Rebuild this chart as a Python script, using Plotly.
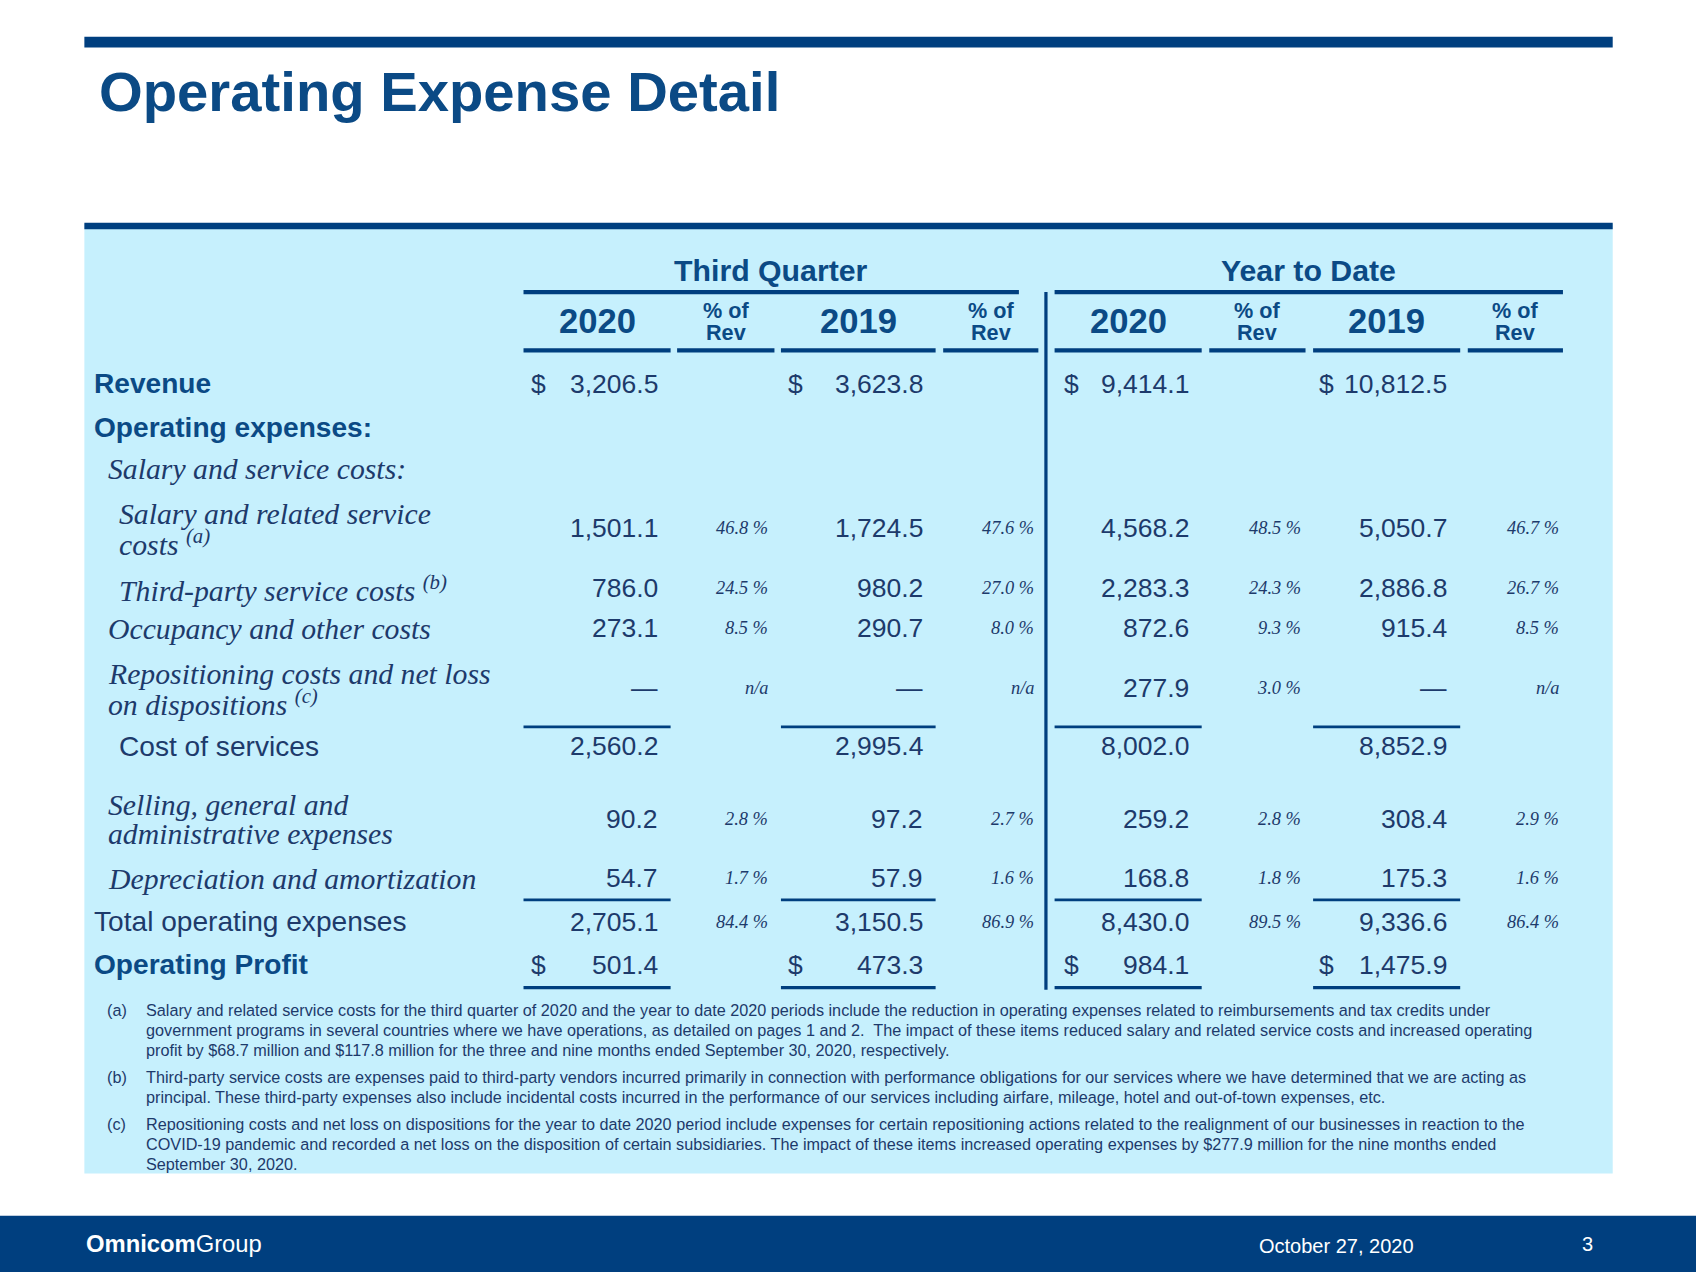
import plotly.graph_objects as go

# reference layout is drawn in 1568x1176 units, page is 1696x1272
W, H = 1568, 1176
K = 1696 / 1568

NAVY = '#003f7f'
BLUE = '#0b4a85'
TXT = '#1d3a6b'
PANEL = '#c6f0fd'

groups = ['Third Quarter', 'Year to Date']
col_years = ['2020', '% of<br>Rev', '2019', '% of<br>Rev', '2020', '% of<br>Rev', '2019', '% of<br>Rev']

labels = ['Revenue', 'Operating expenses:', 'Salary and service costs:',
          'Salary and related service<br>costs <sup>(a)</sup>',
          'Third-party service costs <sup>(b)</sup>',
          'Occupancy and other costs',
          'Repositioning costs and net loss<br>on dispositions <sup>(c)</sup>',
          'Cost of services',
          'Selling, general and<br>administrative expenses',
          'Depreciation and amortization',
          'Total operating expenses', 'Operating Profit']
label_style = ['bold', 'bold', 'ital', 'ital', 'ital', 'ital', 'ital', 'plain', 'ital', 'ital', 'plain', 'bold']

q3_2020 = ['3,206.5', '', '', '1,501.1', '786.0', '273.1', '—', '2,560.2', '90.2', '54.7', '2,705.1', '501.4']
q3_2020_pct = ['', '', '', '46.8 %', '24.5 %', '8.5 %', 'n/a', '', '2.8 %', '1.7 %', '84.4 %', '']
q3_2019 = ['3,623.8', '', '', '1,724.5', '980.2', '290.7', '—', '2,995.4', '97.2', '57.9', '3,150.5', '473.3']
q3_2019_pct = ['', '', '', '47.6 %', '27.0 %', '8.0 %', 'n/a', '', '2.7 %', '1.6 %', '86.9 %', '']
ytd_2020 = ['9,414.1', '', '', '4,568.2', '2,283.3', '872.6', '277.9', '8,002.0', '259.2', '168.8', '8,430.0', '984.1']
ytd_2020_pct = ['', '', '', '48.5 %', '24.3 %', '9.3 %', '3.0 %', '', '2.8 %', '1.8 %', '89.5 %', '']
ytd_2019 = ['10,812.5', '', '', '5,050.7', '2,886.8', '915.4', '—', '8,852.9', '308.4', '175.3', '9,336.6', '1,475.9']
ytd_2019_pct = ['', '', '', '46.7 %', '26.7 %', '8.5 %', 'n/a', '', '2.9 %', '1.6 %', '86.4 %', '']
dollar_rows = [0, 11]

footnotes = [
    ('(a)', 'Salary and related service costs for the third quarter of 2020 and the year to date 2020 periods include the reduction in operating expenses related to reimbursements and tax credits under<br>'
            'government programs in several countries where we have operations, as detailed on pages 1 and 2.  The impact of these items reduced salary and related service costs and increased operating<br>'
            'profit by $68.7 million and $117.8 million for the three and nine months ended September 30, 2020, respectively.'),
    ('(b)', 'Third-party service costs are expenses paid to third-party vendors incurred primarily in connection with performance obligations for our services where we have determined that we are acting as<br>'
            'principal. These third-party expenses also include incidental costs incurred in the performance of our services including airfare, mileage, hotel and out-of-town expenses, etc.'),
    ('(c)', 'Repositioning costs and net loss on dispositions for the year to date 2020 period include expenses for certain repositioning actions related to the realignment of our businesses in reaction to the<br>'
            'COVID-19 pandemic and recorded a net loss on the disposition of certain subsidiaries. The impact of these items increased operating expenses by $277.9 million for the nine months ended<br>'
            'September 30, 2020.'),
]

# layout positions (reference units)
row_y = [355, 395, 433, 488, 544, 581, 636, 690, 757, 812, 852, 892]
label_x = [85, 85, 98, 108, 108, 98, 98, 108, 98, 98, 85, 85]
val_right = [610, 855, 1101, 1340]
pct_right = [712, 958, 1205, 1443]
dollar_x = [489, 727, 982, 1218]
val_seg = [(484, 620), (722, 865), (975, 1111), (1214, 1350)]
hdr_seg = [(484, 620), (626, 716), (722, 865), (872, 960), (975, 1111), (1118, 1207), (1214, 1350), (1357, 1445)]
group_seg = [(484, 942), (975, 1445)]

SANS = 'Liberation Sans, Arial'
SERIF = 'Liberation Serif, Times New Roman'

fig = go.Figure()
shapes = []
ann = []


def rect(x0, y0, x1, y1, color):
    shapes.append(dict(type='rect', xref='x', yref='y', x0=x0, x1=x1, y0=y0, y1=y1,
                       fillcolor=color, line_width=0, layer='below'))


def hline(x0, x1, y, w=2.5, color=NAVY):
    shapes.append(dict(type='line', xref='x', yref='y', x0=x0, x1=x1, y0=y, y1=y,
                       line=dict(color=color, width=w * K)))


def text(x, y, s, size, color=TXT, family=SANS, anchor='left', bold=False, italic=False, valign='middle'):
    if bold:
        s = '<b>' + s + '</b>'
    if italic:
        s = '<i>' + s + '</i>'
    ann.append(dict(x=x, y=y, xref='x', yref='y', text=s, showarrow=False, xanchor=anchor,
                    yanchor=valign, align=anchor, font=dict(size=size * K, color=color, family=family)))


def lines(x, y, s, size, step, **kw):
    # multi-line text with tight spacing, one annotation per line
    parts = s.split('<br>')
    y0 = y - step * (len(parts) - 1) / 2
    for j, p in enumerate(parts):
        text(x, y0 + j * step, p, size, **kw)


rect(78, 34, 1491, 44, NAVY)
text(90, 85, 'Operating Expense Detail', 52, BLUE, bold=True)
rect(78, 207, 1491, 1085, PANEL)
rect(78, 206, 1491, 212, NAVY)
rect(0, 1124, W, H, NAVY)

for g, (a, b) in zip(groups, group_seg):
    text((a + b) / 2, 250, g, 28, BLUE, anchor='center', bold=True)
    hline(a, b, 270, 4)
for i, (lbl, (a, b)) in enumerate(zip(col_years, hdr_seg)):
    if i % 2 == 0:
        text((a + b) / 2, 297, lbl, 32, BLUE, anchor='center', bold=True)
    else:
        lines((a + b) / 2, 297, lbl, 20, 20, color=BLUE, anchor='center', bold=True)
    hline(a, b, 324, 4)
shapes.append(dict(type='line', xref='x', yref='y', x0=967, x1=967, y0=270, y1=915,
                   line=dict(color=NAVY, width=3 * K)))

for i, lbl in enumerate(labels):
    st = label_style[i]
    if st == 'bold':
        text(label_x[i], row_y[i], lbl, 26, BLUE, bold=True)
    elif st == 'ital':
        lines(label_x[i], row_y[i], lbl, 27.5, 27, color=TXT, family=SERIF, italic=True)
    else:
        text(label_x[i], row_y[i], lbl, 26, TXT)

val_cols = [q3_2020, q3_2019, ytd_2020, ytd_2019]
pct_cols = [q3_2020_pct, q3_2019_pct, ytd_2020_pct, ytd_2019_pct]
for c in range(4):
    for i, y in enumerate(row_y):
        if val_cols[c][i]:
            text(val_right[c], y, val_cols[c][i], 24.5, TXT, anchor='right')
        if pct_cols[c][i]:
            text(pct_right[c], y, pct_cols[c][i], 17, TXT, family=SERIF, anchor='right', italic=True)
    for r in dollar_rows:
        text(dollar_x[c], row_y[r], '$', 24.5, TXT)
    a, b = val_seg[c]
    hline(a, b, 672)
    hline(a, b, 832)
    hline(a, b, 913, 3)

fy = [934, 996, 1039]
for (tag, body), y in zip(footnotes, fy):
    text(97, y, tag, 15, TXT)
    for j, p in enumerate(body.split('<br>')):
        text(133, y + j * 18.5, p, 15, TXT)

text(78, 1150, '<b>Omnicom</b>Group', 22, 'white')
text(1236, 1152, 'October 27, 2020', 18.5, 'white', anchor='center')
text(1468, 1150, '3', 18.5, 'white', anchor='center')

fig.update_layout(width=1696, height=1272, margin=dict(l=0, r=0, t=0, b=0),
                  paper_bgcolor='white', plot_bgcolor='white',
                  shapes=shapes, annotations=ann, showlegend=False)
fig.update_xaxes(range=[0, W], visible=False, fixedrange=True)
fig.update_yaxes(range=[H, 0], visible=False, fixedrange=True)
fig.write_html('out.html', config={'displayModeBar': False},
               post_script="document.body.style.margin='0';")
